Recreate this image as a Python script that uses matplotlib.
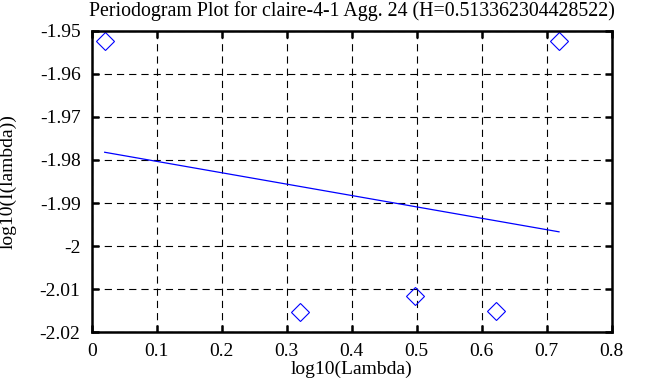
import matplotlib
matplotlib.use("Agg")
import matplotlib.pyplot as plt
import numpy as np

log_lambda = [0.020, 0.321, 0.497, 0.622, 0.719]
log_I = [-1.9523, -2.0153, -2.0117, -2.0150, -1.9523]
fit_x = [0.020, 0.719]
fit_y = [-1.9782, -1.9967]
xticks = [0, 0.1, 0.2, 0.3, 0.4, 0.5, 0.6, 0.7, 0.8]
yticks = [-1.95, -1.96, -1.97, -1.98, -1.99, -2.0, -2.01, -2.02]
ytick_labels = ["-1.95", "-1.96", "-1.97", "-1.98", "-1.99", "-2", "-2.01", "-2.02"]
xtick_labels = ["0", "0.1", "0.2", "0.3", "0.4", "0.5", "0.6", "0.7", "0.8"]

plt.rcParams['font.family'] = ['Liberation Serif', 'DejaVu Serif']
fig = plt.figure(figsize=(6.63, 3.87), dpi=100)
ax = fig.add_axes([0.1383, 0.142, 0.7843, 0.778])

ax.plot(fit_x, fit_y, color='#0000ff', lw=0.9)
ax.plot(log_lambda, log_I, linestyle='none', marker='D', markersize=9,
        markerfacecolor='none', markeredgecolor='#0000ff', markeredgewidth=0.8)

ax.set_xlim(0, 0.8)
ax.set_ylim(-2.02, -1.95)
ax.set_xticks(xticks)
ax.set_xticklabels(xtick_labels)
ax.set_yticks(yticks)
ax.set_yticklabels(ytick_labels)
ax.grid(True, color='black', linestyle=(0, (6.5, 4.5)), lw=0.8)
ax.tick_params(direction='in', top=True, right=True, length=5, width=1.8,
               labelsize=14)
ax.tick_params(axis='x', pad=8)
ax.tick_params(axis='y', pad=8)
for s in ax.spines.values():
    s.set_linewidth(1.8)

ax.set_title("Periodogram Plot for claire-4-1 Agg. 24 (H=0.513362304428522)",
             fontsize=14.3, pad=11)
ax.set_xlabel("log10(Lambda)", fontsize=14, va='center')
ax.set_ylabel("log10(I(lambda))", fontsize=14, va='center')
ax.xaxis.set_label_coords(0.5, -0.123)
ax.yaxis.set_label_coords(-0.161, 0.5)

fig.savefig("out.png", dpi=100)
